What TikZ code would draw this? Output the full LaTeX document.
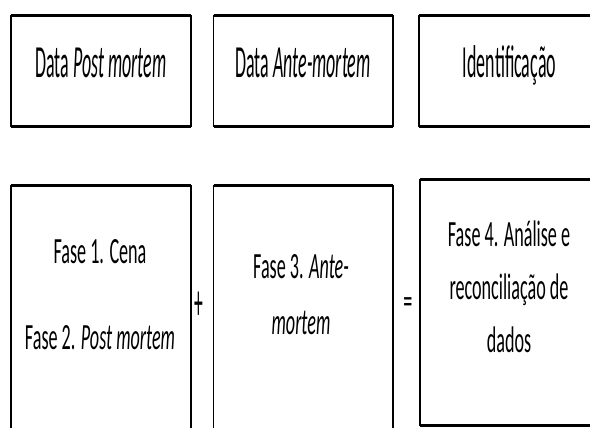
\documentclass[tikz,border=0pt]{standalone}
\usepackage{fontspec}
\setmainfont{Carlito}
\newfontfamily\topfont{Carlito}[FakeStretch=0.39]
\newfontfamily\botfont{Carlito}[FakeStretch=0.49]
\newfontfamily\opfont{Carlito}[FakeStretch=0.35]
\begin{document}
\begin{tikzpicture}[x=1pt,y=-1pt,
  box/.style={draw=black, line width=1.8pt, inner sep=0pt, outer sep=0pt},
  hedge/.style={draw=black, line width=3.4pt},
  toptext/.style={anchor=base, inner sep=0pt, font=\topfont\fontsize{46}{50}\selectfont},
  bottext/.style={anchor=base, inner sep=0pt, font=\botfont\fontsize{37}{42}\selectfont},
  optext/.style={anchor=base, inner sep=0pt, font=\opfont\fontsize{50}{55}\selectfont}]
\useasboundingbox (0,0) rectangle (590,428);
\clip (0,0) rectangle (590,428);
% top row boxes
\node[box, minimum width=180pt, minimum height=111pt] (b1) at (101,71) {};
\node[box, minimum width=179.5pt, minimum height=111pt] (b2) at (303.25,71) {};
\node[box, minimum width=181pt, minimum height=111pt] (b3) at (509.5,71) {};
% bottom row boxes
\node[box, minimum width=180pt, minimum height=254.5pt] (b4) at (101,312.75) {};
\node[box, minimum width=179.5pt, minimum height=254.5pt] (b5) at (303.25,312.75) {};
\node[box, minimum width=180pt, minimum height=246pt] (b6) at (510,302.5) {};
% thicker horizontal edges
\foreach \b in {b1,b2,b3,b4,b5,b6}{
  \draw[hedge] (\b.north west) -- (\b.north east);
  \draw[hedge] (\b.south west) -- (\b.south east);
}
% top texts
\node[toptext] (t1) at (101,77.5) {Data \textit{Post mortem}};
\node[toptext] (t2) at (303,77.5) {Data \textit{Ante-mortem}};
\node[toptext] (t3) at (509.5,77.5) {Identificação};
% bottom texts
\node[bottext] (t4a) at (100,263.5) {Fase 1. Cena};
\node[bottext] (t4b) at (100,349.5) {Fase 2. \textit{Post mortem}};
\node[bottext] (t5a) at (301,278) {Fase 3. \textit{Ante-}};
\node[bottext] (t5b) at (301,334) {\textit{mortem}};
\node[bottext] (t6a) at (509,246.5) {Fase 4. Análise e};
\node[bottext] (t6b) at (509,299.5) {reconciliação de};
\node[bottext] (t6c) at (509,352.5) {dados};
% operators
\node[optext] (plus) at (199,319) {+};
\node[bottext] (eq) at (408,313) {=};
\end{tikzpicture}
\end{document}
